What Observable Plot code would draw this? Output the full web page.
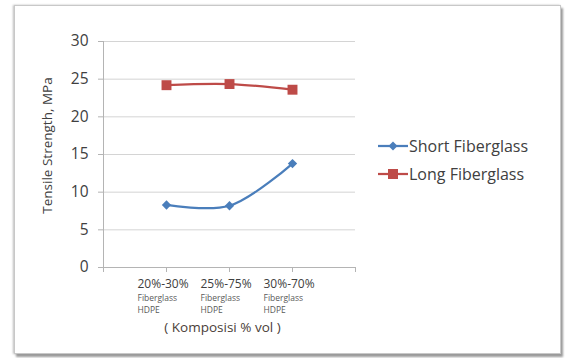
<!DOCTYPE html>
<html>
<head>
<meta charset="utf-8">
<script src="https://cdn.jsdelivr.net/npm/d3@7"></script>
<script src="https://cdn.jsdelivr.net/npm/@observablehq/plot@0.6"></script>
<style>
  html, body { margin: 0; padding: 0; background: #fff; }
  #wrap { position: relative; width: 565px; height: 358px; overflow: hidden; font-family: "Open Sans", sans-serif; }
  #box { position: absolute; left: 14px; top: 5px; width: 545px; height: 347px; border: 1px solid #c8c8c8; box-shadow: 2px 3px 2px #9a9a9a, -1px 0 2px #bdbdbd; background: #fff; }
  #chart { position: absolute; left: 0; top: 0; }
  #legend { position: absolute; left: 378px; top: 132px; font-size: 16px; color: #404040; }
  .item { display: flex; align-items: center; height: 28px; }
  .item svg { margin-right: 1px; }
</style>
</head>
<body>
<div id="wrap">
  <div id="box"></div>
  <div id="chart"></div>
  <div id="legend"></div>
</div>
<script>
const categories = ["20%-30%", "25%-75%", "30%-70%"];
const subLine1 = ["Fiberglass", "Fiberglass", "Fiberglass"];
const subLine2 = ["HDPE", "HDPE", "HDPE"];
const shortFiberglass = [8.3, 8.2, 13.8];
const longFiberglass = [24.2, 24.35, 23.6];
const yTicks = [0, 5, 10, 15, 20, 25, 30];
const seriesNames = ["Short Fiberglass", "Long Fiberglass"];
const seriesColors = ["#4a7ebb", "#be4b48"];

const shortRows = categories.map((c, i) => ({pos: i + 1, cat: c, v: shortFiberglass[i]}));
const longRows = categories.map((c, i) => ({pos: i + 1, cat: c, v: longFiberglass[i]}));
const labelRows = categories.map((c, i) => ({pos: i + 1, a: c, b: subLine1[i], c: subLine2[i]}));
const xTickPositions = d3.range(0, categories.length + 2);

const axisGray = "#b4b4b4";
const chart = Plot.plot({
  width: 565,
  height: 358,
  marginLeft: 103,
  marginRight: 210,
  marginTop: 41,
  marginBottom: 91,
  style: {fontFamily: "Open Sans, sans-serif", background: "transparent", overflow: "visible"},
  x: {domain: [0, categories.length + 1], axis: null},
  y: {domain: [0, 30], axis: null},
  marks: [
    Plot.gridY(yTicks, {stroke: "#d4d4d4", strokeOpacity: 1}),
    Plot.axisY(yTicks, {tickSize: 5, tickPadding: 10, fontSize: 15.5, stroke: axisGray, fill: "#404040", label: null}),
    Plot.axisX(xTickPositions, {tickSize: 5, tickFormat: () => "", stroke: axisGray, label: null}),
    Plot.ruleX([0], {stroke: axisGray}),
    Plot.ruleY([0], {stroke: axisGray}),
    Plot.text(labelRows, {x: "pos", y: () => 0, text: "a", dx: -29, dy: 17, textAnchor: "start", fontSize: 12, fill: "#404040"}),
    Plot.text(labelRows, {x: "pos", y: () => 0, text: "b", dx: -29, dy: 30.5, textAnchor: "start", fontSize: 8.5, fill: "#595959"}),
    Plot.text(labelRows, {x: "pos", y: () => 0, text: "c", dx: -29, dy: 43, textAnchor: "start", fontSize: 8.5, fill: "#595959"}),
    Plot.text(["( Komposisi % vol )"], {frameAnchor: "bottom", dx: -7, dy: 64, fontSize: 13.5, fill: "#4a4038"}),
    Plot.text(["Tensile Strength, MPa"], {frameAnchor: "left", textAnchor: "middle", rotate: -90, dx: -56, dy: -9, fontSize: 13.5, fill: "#404040"}),
    Plot.line(shortRows, {x: "pos", y: "v", stroke: seriesColors[0], strokeWidth: 2.25, curve: "catmull-rom"}),
    Plot.dot(shortRows, {x: "pos", y: "v", symbol: "diamond2", r: 4.2, fill: seriesColors[0], stroke: "none"}),
    Plot.line(longRows, {x: "pos", y: "v", stroke: seriesColors[1], strokeWidth: 2.25, curve: "catmull-rom"}),
    Plot.dot(longRows, {x: "pos", y: "v", symbol: "square", r: 5.6, fill: seriesColors[1], stroke: "none"})
  ]
});
document.getElementById("chart").appendChild(chart);

const legend = document.getElementById("legend");
seriesNames.forEach((name, i) => {
  const item = document.createElement("div");
  item.className = "item";
  const marker = i === 0
    ? `<path d="M15,10 l4.5,-4.5 l4.5,4.5 l-4.5,4.5 z" transform="translate(-4.5,0)" fill="${seriesColors[i]}"/>`
    : `<rect x="10" y="5" width="10" height="10" fill="${seriesColors[i]}"/>`;
  item.innerHTML = `<svg width="30" height="20"><line x1="0" y1="10" x2="30" y2="10" stroke="${seriesColors[i]}" stroke-width="2.25"/>${marker}</svg><span>${name}</span>`;
  legend.appendChild(item);
});
</script>
</body>
</html>
